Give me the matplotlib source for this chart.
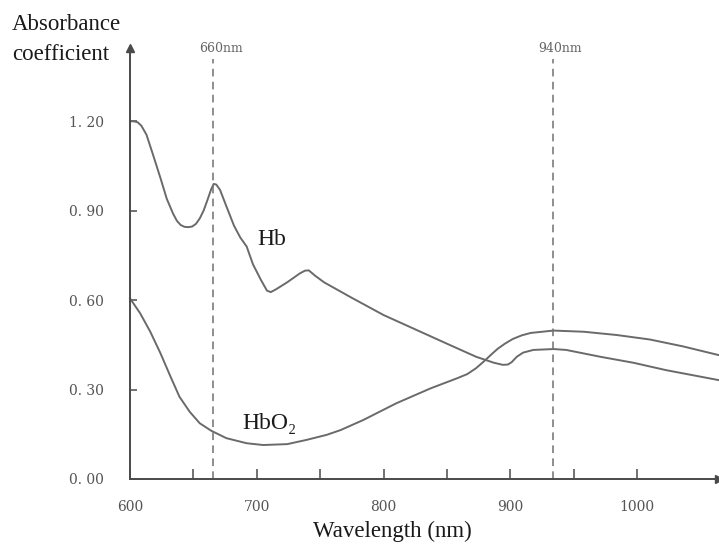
import matplotlib
matplotlib.use("Agg")
import matplotlib.pyplot as plt

# Hb absorbance curve (wavelength in nm, coefficient)
wl_hb = [600, 603, 606, 609, 613, 618, 624, 629, 634, 637, 640, 643, 646, 649,
         652, 655, 658, 661, 664, 666, 668, 671, 676, 682, 687, 692, 697, 703,
         708, 711, 715, 724, 734, 738, 741, 746, 753, 774, 800, 826, 852, 873,
         887, 894, 898, 901, 905, 910, 918, 934, 944, 971, 997, 1023, 1064]
hb = [1.20, 1.20, 1.197, 1.185, 1.155, 1.09, 1.01, 0.94, 0.89, 0.866, 0.852,
      0.846, 0.845, 0.847, 0.856, 0.874, 0.9, 0.935, 0.972, 0.99, 0.988, 0.97,
      0.915, 0.85, 0.81, 0.78, 0.72, 0.67, 0.632, 0.627, 0.636, 0.66, 0.69,
      0.699, 0.70, 0.682, 0.66, 0.61, 0.55, 0.50, 0.45, 0.41, 0.39, 0.383,
      0.384, 0.392, 0.41, 0.424, 0.433, 0.436, 0.433, 0.41, 0.39, 0.365, 0.332]

# HbO2 absorbance curve
wl_o2 = [600, 608, 616, 624, 632, 639, 647, 655, 664, 676, 692, 705, 724, 739,
         755, 766, 784, 810, 837, 858, 866, 873, 880, 885, 890, 896, 902, 909,
         916, 934, 958, 984, 1010, 1036, 1064]
hbo2 = [0.606, 0.556, 0.494, 0.422, 0.343, 0.276, 0.226, 0.187, 0.162, 0.137,
        0.12, 0.114, 0.117, 0.131, 0.148, 0.164, 0.198, 0.254, 0.304, 0.338,
        0.352, 0.372, 0.398, 0.418, 0.437, 0.455, 0.47, 0.482, 0.49, 0.498,
        0.494, 0.483, 0.468, 0.445, 0.416]

# marker wavelengths (where the dashed lines sit in the figure) and their labels
mark_pos = [665.5, 933.5]
mark_labels = ["660nm", "940nm"]

x_major = [600, 700, 800, 900, 1000]
x_minor = [650, 750, 850, 950]
y_ticks = [0.0, 0.3, 0.6, 0.9, 1.2]
y_labels = ["0. 00", "0. 30", "0. 60", "0. 90", "1. 20"]

serif = ["Liberation Serif", "DejaVu Serif"]
curve_col = "#6a6a6a"
axis_col = "#4a4a4a"

fig = plt.figure(figsize=(7.19, 5.49), dpi=100)
W, H = 719, 549
ax = fig.add_axes([130 / W, 70 / H, (719 - 130) / W, (479 - 48) / H])
ax.set_xlim(600, 1064.5)
ax.set_ylim(0, 1.446)

for s in ["top", "right"]:
    ax.spines[s].set_visible(False)
for s in ["left", "bottom"]:
    ax.spines[s].set_color(axis_col)
    ax.spines[s].set_linewidth(1.4)

# arrow heads
ax.plot(1, 0, ">", color=axis_col, ms=6, transform=ax.transAxes, clip_on=False)
ax.plot(0, 1, "^", color=axis_col, ms=6, transform=ax.transAxes, clip_on=False)

ax.plot(wl_hb, hb, color=curve_col, lw=1.4, clip_on=False,
        solid_joinstyle="round")
ax.plot(wl_o2, hbo2, color=curve_col, lw=1.4, clip_on=False,
        solid_joinstyle="round")

for xp, lab in zip(mark_pos, mark_labels):
    ax.plot([xp, xp], [0, 1.41], color="#707070", lw=1.1, ls=(0, (5, 3.5)))
    ax.text(xp + 6, 1.445, lab, ha="center", va="center", fontsize=9,
            family="DejaVu Serif", color="#666666")

ax.set_xticks(x_major)
ax.set_xticks(x_minor, minor=True)
ax.set_xticklabels([str(v) for v in x_major], family="DejaVu Serif",
                   fontsize=10, color="#555555")
ax.set_yticks(y_ticks)
ax.set_yticklabels(y_labels, family="DejaVu Serif", fontsize=10, color="#555555")
ax.tick_params(axis="x", which="both", direction="in", length=7, width=1.1,
               color=axis_col, pad=15)
ax.tick_params(axis="y", direction="in", length=5, width=1.1, color=axis_col,
               pad=19)

ax.text(712, 0.805, "Hb", ha="center", va="center", fontsize=17, family=serif,
        color="#1a1a1a")
ax.text(710, 0.185, "HbO₂", ha="center", va="center", fontsize=17,
        family=serif, color="#1a1a1a")

ax.set_xlabel("Wavelength (nm)", fontsize=16.5, family=serif, color="#1a1a1a")
ax.xaxis.set_label_coords((392 - 130) / 589, (479 - 521) / 431)

fig.text(12 / W, 1 - 24 / H, "Absorbance", ha="left", va="center",
         fontsize=16.5, family=serif, color="#1a1a1a")
fig.text(12 / W, 1 - 54 / H, "coefficient", ha="left", va="center",
         fontsize=16.5, family=serif, color="#1a1a1a")

fig.savefig("out.png", dpi=100)
